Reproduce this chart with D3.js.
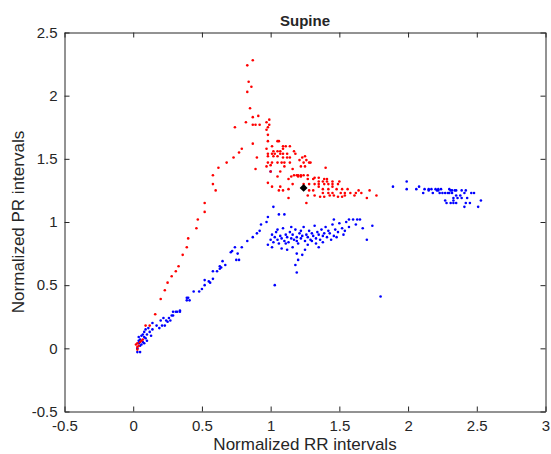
<!DOCTYPE html>
<html>
<head>
<meta charset="utf-8">
<script src="https://cdn.jsdelivr.net/npm/d3@7"></script>
<style>
  body { margin: 0; background: #fff; }
  text { font-family: "Liberation Sans", Arial, Helvetica, sans-serif; fill: #262626; }
</style>
</head>
<body>
<div id="chart"></div>
<script>
// tick values
var xTicks = [-0.5, 0, 0.5, 1, 1.5, 2, 2.5, 3];
var yTicks = [-0.5, 0, 0.5, 1, 1.5, 2, 2.5];

// red series [RR, PR]
var redPoints = [
  [0.02,0.03],[0.03,0.04],[0.03,-0.01],[0.04,0.02],[0.06,0.06],[0.07,0.07],[0.05,0.05],[0.03,0.01],[0.09,0.18],[0.12,0.18],
  [0.16,0.27],[0.20,0.39],[0.23,0.46],[0.25,0.52],[0.28,0.57],[0.31,0.61],[0.33,0.65],[0.36,0.74],[0.39,0.80],[0.40,0.87],
  [0.46,0.95],[0.47,1.02],[0.52,1.08],[0.52,1.15],[0.58,1.30],[0.60,1.25],[0.58,1.37],[0.62,1.43],[0.68,1.47],[0.73,1.51],
  [0.77,1.55],[0.79,1.58],[0.87,1.62],[0.74,1.75],
  [0.87,2.28],[0.83,2.24],[0.84,2.11],[0.86,2.07],[0.83,2.03],[0.85,1.90],[0.91,1.84],[0.87,1.83],[0.82,1.79],[0.99,1.81],
  [0.97,1.79],[0.87,1.77],[0.89,1.77],[0.92,1.77],[0.99,1.77],[0.98,1.75],[0.97,1.73],[0.98,1.69],
  [0.98,1.64],[1.05,1.64],[1.06,1.64],[1.01,1.60],[1.09,1.60],[1.11,1.60],[1.14,1.60],[0.97,1.58],[1.09,1.58],[1.02,1.56],
  [1.05,1.56],[1.07,1.56],[1.17,1.56],[0.98,1.54],[1.01,1.54],[1.03,1.54],[1.07,1.54],[1.09,1.54],[1.12,1.54],[1.18,1.54],
  [0.98,1.52],[1.02,1.52],[1.05,1.52],[1.25,1.52],[1.09,1.51],[1.12,1.51],[1.14,1.51],[1.23,1.51],[0.90,1.51],[1.21,1.49],
  [1.26,1.49],[0.98,1.47],[1.01,1.47],[1.05,1.47],[1.08,1.47],[1.10,1.47],[1.14,1.47],[1.24,1.47],[1.28,1.47],[1.29,1.47],
  [0.97,1.44],[1.00,1.45],[1.10,1.44],[1.22,1.44],[1.25,1.44],[1.40,1.43],[0.89,1.42],[1.16,1.42],[1.00,1.40],[1.07,1.40],
  [1.17,1.37],[1.19,1.37],[1.20,1.37],[1.22,1.37],[1.24,1.37],[1.27,1.37],[1.05,1.36],[1.15,1.36],[1.20,1.36],[1.22,1.36],
  [1.32,1.35],[1.35,1.35],[1.39,1.34],[1.41,1.34],[1.13,1.34],[1.27,1.34],[1.31,1.34],[1.35,1.32],[1.38,1.32],[1.41,1.32],
  [1.45,1.32],[1.50,1.32],[1.16,1.30],[1.24,1.30],[1.28,1.30],[1.32,1.30],[1.35,1.30],[1.39,1.30],[1.42,1.30],[1.45,1.30],
  [1.49,1.30],[0.98,1.31],[1.01,1.28],[1.07,1.28],[1.13,1.26],[1.35,1.28],[1.38,1.26],[1.42,1.26],[1.45,1.28],[1.48,1.26],
  [1.52,1.26],[1.56,1.26],[1.06,1.25],[1.09,1.25],[1.28,1.25],[1.31,1.25],[1.38,1.23],[1.42,1.23],[1.45,1.23],[1.51,1.23],
  [1.54,1.23],[1.58,1.23],[1.62,1.23],[1.66,1.23],[1.72,1.25],[1.27,1.21],[1.32,1.21],[1.36,1.20],[1.39,1.20],[1.43,1.21],
  [1.46,1.21],[1.49,1.20],[1.52,1.20],[1.54,1.21],[1.61,1.21],[1.70,1.19],[1.77,1.21],[1.13,1.19],[1.26,1.15],[1.64,1.25]
];

// blue series [RR, PR]
var bluePoints = [
  [0.03,-0.03],[0.05,-0.03],[0.03,0.00],[0.05,0.02],[0.04,0.04],[0.05,0.07],[0.07,0.11],[0.08,0.09],[0.08,0.13],[0.09,0.08],
  [0.10,0.11],[0.12,0.13],[0.14,0.15],[0.14,0.20],[0.17,0.18],[0.04,0.06],[0.06,0.03],[0.07,0.05],[0.09,0.15],[0.11,0.16],
  [0.13,0.10],[0.06,0.10],[0.10,0.06],[0.04,0.09],[0.08,0.04],
  [0.20,0.22],[0.23,0.18],[0.24,0.22],[0.25,0.21],[0.26,0.24],[0.27,0.22],[0.28,0.26],[0.29,0.26],[0.29,0.29],[0.31,0.29],
  [0.32,0.29],[0.34,0.30],[0.34,0.29],[0.21,0.18],[0.19,0.16],[0.22,0.24],[0.39,0.38],[0.39,0.40],[0.40,0.40],[0.41,0.38],
  [0.44,0.45],[0.48,0.45],[0.50,0.47],[0.52,0.50],[0.52,0.54],[0.55,0.53],[0.56,0.52],[0.58,0.55],[0.58,0.61],[0.61,0.61],
  [0.63,0.63],[0.63,0.65],[0.64,0.64],[0.65,0.69],[0.67,0.66],[0.72,0.77],[0.71,0.76],[0.74,0.80],[0.75,0.70],[0.76,0.75],
  [0.77,0.70],[0.79,0.80],[0.83,0.85],[0.87,0.88],[0.90,0.91],[0.92,0.93],[0.93,0.98],[0.97,1.00],[0.98,1.04],[1.02,1.12],
  [1.00,1.40],[1.06,1.06],[1.10,1.06],
  [0.98,0.82],[1.00,0.86],[1.01,0.90],[1.02,0.84],[1.03,0.88],[1.04,0.92],[1.05,0.86],[1.06,0.83],[1.07,0.89],[1.08,0.87],
  [1.09,0.95],[1.10,0.85],[1.11,0.90],[1.12,0.88],[1.13,0.84],[1.14,0.92],[1.15,0.87],[1.16,0.90],[1.17,0.86],[1.18,0.94],
  [1.19,0.88],[1.20,0.83],[1.21,0.91],[1.22,0.87],[1.23,0.89],[1.24,0.96],[1.25,0.85],[1.26,0.90],[1.27,0.88],[1.28,0.93],
  [1.29,0.86],[1.30,0.91],[1.31,0.89],[1.32,0.97],[1.33,0.87],[1.34,0.92],[1.35,0.90],[1.36,0.86],[1.37,0.94],[1.38,0.89],
  [1.39,0.91],[1.40,0.96],[1.41,0.88],[1.42,0.93],[1.43,0.91],[1.45,0.98],[1.46,0.89],[1.47,0.94],[1.49,0.92],[1.50,0.99],
  [1.52,0.95],[1.54,0.93],[1.55,1.00],[1.57,0.96],[1.60,1.02],[1.62,0.98],[1.63,1.02],[1.46,1.02],[1.57,1.02],[1.65,1.02],
  [1.67,0.95],[1.74,0.97],[1.70,0.86],[1.80,0.41],[1.03,0.50],[1.19,0.75],[1.20,0.70],[1.12,0.78],[1.16,0.80],[1.05,0.94],
  [1.15,0.96],[1.22,0.93],[1.27,0.82],[1.33,0.83],[1.08,0.79],[1.25,0.78],[1.11,0.83],[1.19,0.85],[1.30,0.85],[1.38,0.84],
  [1.44,0.86],[1.48,0.88],[1.53,0.90],[1.01,0.80],[1.23,0.74],[1.35,0.80],[1.18,0.66],[1.19,0.60],
  [1.89,1.28],[1.99,1.32],[1.99,1.26],[2.08,1.28],[2.06,1.26],[2.12,1.26],[2.11,1.23],[2.15,1.26],[2.17,1.26],[2.20,1.26],
  [2.22,1.26],[2.24,1.26],[2.15,1.25],[2.18,1.23],[2.21,1.25],[2.22,1.25],[2.23,1.23],[2.25,1.23],[2.27,1.23],[2.29,1.23],
  [2.30,1.26],[2.31,1.25],[2.32,1.25],[2.34,1.25],[2.35,1.25],[2.30,1.23],[2.32,1.23],[2.35,1.21],[2.38,1.21],[2.39,1.25],
  [2.42,1.25],[2.41,1.23],[2.46,1.23],[2.48,1.23],[2.43,1.19],[2.33,1.19],[2.36,1.19],[2.39,1.19],[2.27,1.17],[2.28,1.15],
  [2.31,1.15],[2.33,1.15],[2.35,1.15],[2.33,1.17],[2.42,1.15],[2.45,1.15],[2.41,1.12],[2.51,1.12],[2.53,1.17]
];

// mean marker
var meanPoint = [1.24, 1.27];

var width = 551, height = 454;
var box = {left: 64.5, right: 545.5, top: 32.5, bottom: 411.5};

var svg = d3.select("#chart").append("svg")
    .attr("width", width)
    .attr("height", height);

var x = d3.scaleLinear().domain([-0.5, 3]).range([box.left, box.right]);
var y = d3.scaleLinear().domain([-0.5, 2.5]).range([box.bottom, box.top]);

var fmt = function(d) { return String(d); };

var drawAxis = function(axis, tx, ty, labels) {
    var g = svg.append("g")
        .attr("transform", "translate(" + tx + "," + ty + ")")
        .call(axis);
    g.select(".domain").attr("stroke", "#262626");
    g.selectAll(".tick line").attr("stroke", "#262626");
    g.selectAll(".tick text")
        .attr("fill", "#262626")
        .style("font-size", "15px")
        .style("font-family", "'Liberation Sans', Arial, sans-serif");
    if (!labels) g.selectAll(".tick text").remove();
    return g;
};

drawAxis(d3.axisBottom(x).tickValues(xTicks).tickFormat(fmt).tickSizeInner(-5).tickSizeOuter(0).tickPadding(9), 0, box.bottom, true);
drawAxis(d3.axisTop(x).tickValues(xTicks).tickSizeInner(-5).tickSizeOuter(0), 0, box.top, false);
drawAxis(d3.axisLeft(y).tickValues(yTicks).tickFormat(fmt).tickSizeInner(-5).tickSizeOuter(0).tickPadding(7), box.left, 0, true);
drawAxis(d3.axisRight(y).tickValues(yTicks).tickSizeInner(-5).tickSizeOuter(0), box.right, 0, false);

//points
var plot = svg.append("g");

plot.selectAll("circle.blue")
    .data(bluePoints)
    .enter().append("circle")
    .attr("class", "blue")
    .attr("cx", function(d) { return x(d[0]); })
    .attr("cy", function(d) { return y(d[1]); })
    .attr("r", 1.3)
    .attr("fill", "#0000ff");

plot.selectAll("circle.red")
    .data(redPoints)
    .enter().append("circle")
    .attr("class", "red")
    .attr("cx", function(d) { return x(d[0]); })
    .attr("cy", function(d) { return y(d[1]); })
    .attr("r", 1.3)
    .attr("fill", "#ff0000");

plot.append("path")
    .attr("d", d3.symbol().type(d3.symbolDiamond2).size(40)())
    .attr("transform", "translate(" + x(meanPoint[0]) + "," + y(meanPoint[1]) + ")")
    .attr("fill", "#000");

// titles
svg.append("text")
    .attr("x", (box.left + box.right) / 2)
    .attr("y", 26)
    .attr("text-anchor", "middle")
    .style("font-size", "15px")
    .style("font-weight", "bold")
    .attr("fill", "#000")
    .text("Supine");

svg.append("text")
    .attr("x", (box.left + box.right) / 2)
    .attr("y", 450)
    .attr("text-anchor", "middle")
    .style("font-size", "17px")
    .text("Normalized RR intervals");

svg.append("text")
    .attr("transform", "translate(24," + ((box.top + box.bottom) / 2) + ") rotate(-90)")
    .attr("text-anchor", "middle")
    .style("font-size", "17px")
    .text("Normalized PR intervals");
</script>
</body>
</html>
